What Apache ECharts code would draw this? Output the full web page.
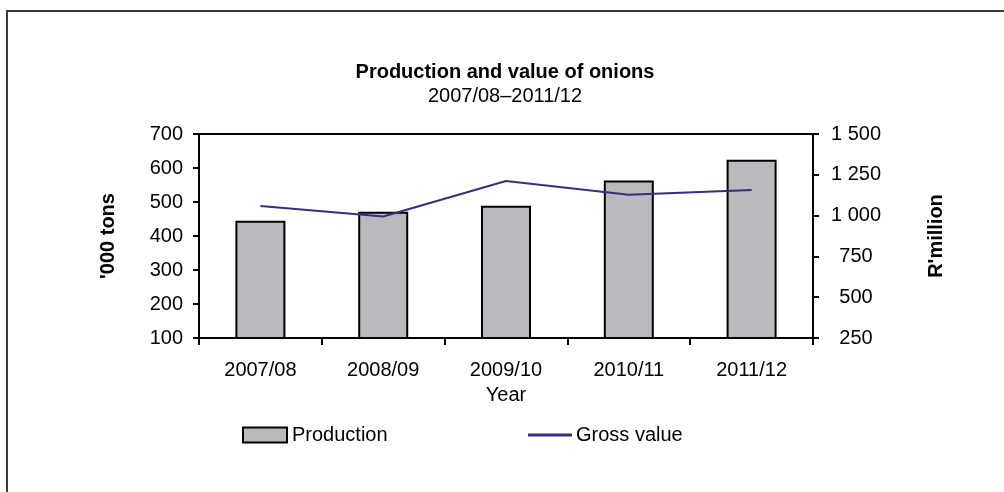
<!DOCTYPE html>
<html>
<head>
<meta charset="utf-8">
<script src="https://cdn.jsdelivr.net/npm/echarts@6/dist/echarts.min.js"></script>
<style>
html,body{margin:0;padding:0;background:#fff;}
#chart{width:1004px;height:492px;}
</style>
</head>
<body>
<div id="chart"></div>
<script>
const categories = ['2007/08', '2008/09', '2009/10', '2010/11', '2011/12'];
const production = [445, 471, 489, 563, 624];
const grossValue = [1059, 995, 1212, 1128, 1157];
const leftTicks = [100, 700, 100];   // min, max, interval
const rightTicks = [250, 1500, 250]; // min, max, interval

const FONT = 'Liberation Sans, Arial, sans-serif';
const FS = 20;

function spaceThousands(v) {
  return String(v).replace(/\B(?=(\d{3})+(?!\d))/g, ' ');
}

const chart = echarts.init(document.getElementById('chart'), null, {renderer: 'canvas'});
chart.setOption({
  animation: false,
  backgroundColor: '#fff',
  textStyle: {fontFamily: FONT, color: '#000'},
  graphic: [{
    type: 'rect',
    shape: {x: 7, y: 11, width: 1100, height: 600},
    style: {fill: 'none', stroke: '#3a3a3a', lineWidth: 2},
    silent: true
  }],
  title: {
    text: 'Production and value of onions',
    subtext: '2007/08\u20132011/12',
    left: 505,
    textAlign: 'center',
    top: 62,
    padding: 0,
    itemGap: 4,
    textStyle: {fontFamily: FONT, fontSize: FS, fontWeight: 'bold', color: '#000', lineHeight: 20},
    subtextStyle: {fontFamily: FONT, fontSize: FS, color: '#000', lineHeight: 20}
  },
  legend: [{
    left: 242,
    top: 425,
    padding: 0,
    itemWidth: 44,
    itemHeight: 15,
    textStyle: {fontFamily: FONT, fontSize: FS, color: '#000', padding: [0, 0, 0, 0]},
    data: [{name: 'Production', icon: 'rect'}]
  }, {
    left: 528,
    top: 425,
    padding: 0,
    itemWidth: 44,
    itemHeight: 3,
    textStyle: {fontFamily: FONT, fontSize: FS, color: '#000', padding: [0, 0, 0, -1]},
    data: [{name: 'Gross value', icon: 'rect'}]
  }],
  grid: {
    left: 199, right: 191, top: 134, bottom: 154,
    show: true, borderColor: '#000', borderWidth: 2, backgroundColor: 'transparent'
  },
  xAxis: {
    type: 'category',
    data: categories,
    name: 'Year',
    nameLocation: 'middle',
    nameGap: 47,
    nameTextStyle: {fontFamily: FONT, fontSize: FS, color: '#000'},
    axisLine: {lineStyle: {color: '#000', width: 2}},
    axisTick: {show: true, length: 7, lineStyle: {color: '#000', width: 2}},
    axisLabel: {fontFamily: FONT, fontSize: FS, color: '#000', margin: 22}
  },
  yAxis: [{
    type: 'value',
    min: leftTicks[0], max: leftTicks[1], interval: leftTicks[2],
    name: "'000 tons",
    nameLocation: 'middle',
    nameGap: 81,
    nameTextStyle: {fontFamily: FONT, fontSize: FS, fontWeight: 'bold', color: '#000'},
    axisLine: {show: true, lineStyle: {color: '#000', width: 2}},
    axisTick: {show: true, length: 6, lineStyle: {color: '#000', width: 2}},
    axisLabel: {fontFamily: FONT, fontSize: FS, color: '#000', margin: 16},
    splitLine: {show: false}
  }, {
    type: 'value',
    position: 'right',
    min: rightTicks[0], max: rightTicks[1], interval: rightTicks[2],
    name: "R'million",
    nameLocation: 'middle',
    nameGap: 113,
    nameRotate: 90,
    nameTextStyle: {fontFamily: FONT, fontSize: FS, fontWeight: 'bold', color: '#000'},
    axisLine: {show: true, lineStyle: {color: '#000', width: 2}},
    axisTick: {show: true, length: 6, lineStyle: {color: '#000', width: 2}},
    axisLabel: {fontFamily: FONT, fontSize: FS, color: '#000', margin: 43, align: 'center',
      formatter: spaceThousands},
    splitLine: {show: false}
  }],
  series: [{
    name: 'Production',
    type: 'bar',
    yAxisIndex: 0,
    data: production,
    barWidth: 50,
    itemStyle: {color: '#b9babe', borderColor: '#000', borderWidth: 2}
  }, {
    name: 'Gross value',
    type: 'line',
    yAxisIndex: 1,
    data: grossValue,
    symbol: 'none',
    lineStyle: {color: '#34307f', width: 2},
    itemStyle: {color: '#34307f'}
  }]
});
</script>
</body>
</html>
